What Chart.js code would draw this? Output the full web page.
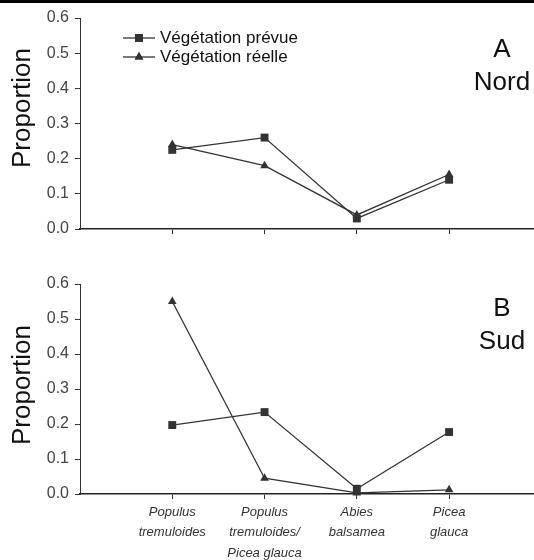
<!DOCTYPE html>
<html>
<head>
<meta charset="utf-8">
<script src="https://cdn.jsdelivr.net/npm/chart.js@4.4.0/dist/chart.umd.min.js"></script>
<style>
  body { margin: 0; background: #fff; }
  #wrap { position: relative; width: 534px; height: 560px; overflow: hidden; }
  #bar { position: absolute; left: 0; top: 0; width: 534px; height: 3px; background: #000; }
  .box { position: absolute; left: 0; width: 534px; }
</style>
</head>
<body>
<div id="wrap">
  <div class="box" style="top:0;height:245px"><canvas id="nord"></canvas></div>
  <div class="box" style="top:260px;height:300px"><canvas id="sud"></canvas></div>
  <div id="bar"></div>
</div>
<script>
// categories (x axis)
var categories = [
  ["Populus", "tremuloides"],
  ["Populus", "tremuloides/", "Picea glauca"],
  ["Abies", "balsamea"],
  ["Picea", "glauca"]
];
var seriesNames = ["Végétation prévue", "Végétation réelle"];

// A - Nord
var nordPrevue = [0.225, 0.26, 0.03, 0.14];
var nordReelle = [0.24, 0.18, 0.04, 0.155];
// B - Sud
var sudPrevue = [0.197, 0.234, 0.015, 0.177];
var sudReelle = [0.55, 0.045, 0.003, 0.012];

var yMin = 0, yMax = 0.6, yStep = 0.1;
var fontFam = "'Liberation Sans', Arial, sans-serif";

function pts(vals) {
  return vals.map(function (v, i) { return { x: i + 1, y: v }; });
}

// draws legend, panel letters and the y title
var extras = {
  id: "extras",
  afterDraw: function (chart, args, o) {
    var ctx = chart.ctx;
    ctx.save();
    if (o.legend) {
      chart.data.datasets.forEach(function (ds, i) {
        var y = o.legend.y + i * o.legend.gap;
        ctx.strokeStyle = ds.borderColor;
        ctx.lineWidth = 1.3;
        ctx.beginPath();
        ctx.moveTo(o.legend.x1, y);
        ctx.lineTo(o.legend.x2, y);
        ctx.stroke();
        ctx.fillStyle = ds.pointBackgroundColor;
        Chart.helpers.drawPoint(ctx, { pointStyle: ds.pointStyle, radius: ds.pointRadius, rotation: 0, borderWidth: 0 },
          (o.legend.x1 + o.legend.x2) / 2, y);
        ctx.fill();
        ctx.fillStyle = "#111";
        ctx.font = "17px " + fontFam;
        ctx.textAlign = "left";
        ctx.textBaseline = "middle";
        ctx.fillText(ds.label, o.legend.tx, y);
      });
    }
    ctx.fillStyle = "#111";
    ctx.font = "26px " + fontFam;
    ctx.textAlign = "center";
    ctx.textBaseline = "middle";
    o.panel.forEach(function (t, i) {
      ctx.fillText(t, o.px, o.py + i * 33);
    });
    ctx.translate(23, o.ty);
    ctx.rotate(-Math.PI / 2);
    ctx.fillText("Proportion", 0, 0);
    ctx.restore();
  }
};

function makeChart(id, prevue, reelle, opts) {
  var ds = [
    { label: seriesNames[0], data: pts(prevue), pointStyle: "rect", pointRadius: 5.6 },
    { label: seriesNames[1], data: pts(reelle), pointStyle: "triangle", pointRadius: 5 }
  ].map(function (d) {
    d.borderColor = "#333";
    d.backgroundColor = "#333";
    d.pointBackgroundColor = "#333";
    d.pointBorderColor = "#333";
    d.pointBorderWidth = 0;
    d.borderWidth = 1.3;
    d.clip = false;
    return d;
  });

  return new Chart(id, {
    type: "line",
    data: { datasets: ds },
    plugins: [extras],
    options: {
      responsive: true,
      maintainAspectRatio: false,
      animation: false,
      layout: { autoPadding: false, padding: { top: opts.top, left: 0, right: 0, bottom: 0 } },
      plugins: {
        legend: { display: false },
        tooltip: { enabled: false },
        extras: opts.extras
      },
      scales: {
        x: {
          type: "linear",
          min: 0,
          max: 4.92,
          afterBuildTicks: function (s) {
            s.ticks = categories.map(function (c, i) { return { value: i + 1 }; });
          },
          afterFit: function (s) { s.height = opts.xh; },
          grid: { drawOnChartArea: false, drawTicks: true, tickLength: 5, color: "#333" },
          border: { color: "#222", width: 1.6 },
          ticks: {
            display: opts.labels,
            autoSkip: false,
            maxRotation: 0,
            padding: 3,
            color: "#333",
            font: { family: fontFam, size: 13, style: "italic", lineHeight: 1.58 },
            callback: function (v) { return categories[v - 1]; }
          }
        },
        y: {
          min: yMin,
          max: yMax,
          afterFit: function (s) { s.width = 80; },
          grid: { drawOnChartArea: false, drawTicks: true, tickLength: 5, color: "#333" },
          border: { color: "#333", width: 1 },
          ticks: {
            stepSize: yStep,
            padding: 6,
            color: "#444",
            font: { family: fontFam, size: 16 },
            callback: function (v) { return v.toFixed(1); }
          }
        }
      }
    }
  });
}

makeChart("nord", nordPrevue, nordReelle, {
  top: 18, xh: 16, labels: false,
  extras: { panel: ["A", "Nord"], px: 502, py: 50, ty: 108,
    legend: { x1: 123, x2: 155, tx: 160, y: 38, gap: 19 } }
});
makeChart("sud", sudPrevue, sudReelle, {
  top: 24, xh: 66, labels: true,
  extras: { panel: ["B", "Sud"], px: 502, py: 49, ty: 125 }
});
</script>
</body>
</html>
